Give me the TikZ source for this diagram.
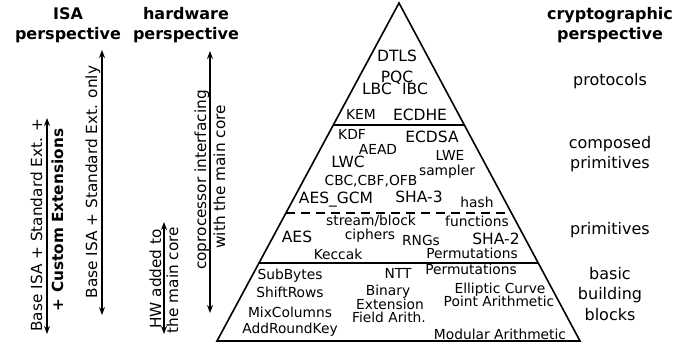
\documentclass[tikz,border=0pt]{standalone}
\usepackage{fontspec}
\setmainfont{DejaVu Sans}
\usetikzlibrary{arrows.meta, calc}

\begin{document}
\begin{tikzpicture}[x=1pt, y=-1pt,
  big/.style={font=\fontsize{15.5}{18}\selectfont, inner sep=0pt, anchor=base},
  small/.style={font=\fontsize{13.8}{16}\selectfont, inner sep=0pt, anchor=base},
  layer/.style={font=\fontsize{16}{19}\selectfont, inner sep=0pt, anchor=base},
  head/.style={font=\fontsize{16}{19}\selectfont\bfseries, inner sep=0pt, anchor=base},
  side/.style={font=\fontsize{15.3}{18}\selectfont, inner sep=0pt, anchor=base, rotate=90},
  both/.style={{Stealth[length=8pt,width=6pt]}-{Stealth[length=8pt,width=6pt]}, line width=1.3pt}]
\useasboundingbox (0,0) rectangle (696,347);
\coordinate (top) at (399,3);
\coordinate (bl) at (217,341);
\coordinate (br) at (580,341);
\coordinate (p1l) at ($(top)!0.361!(bl)$);
\coordinate (p1r) at ($(top)!0.361!(br)$);
\coordinate (p2l) at ($(top)!0.621!(bl)$);
\coordinate (p2r) at ($(top)!0.621!(br)$);
\coordinate (p3l) at ($(top)!0.769!(bl)$);
\coordinate (p3r) at ($(top)!0.769!(br)$);
\draw[line width=1.6pt] (top) -- (bl) -- (br) -- cycle;
\draw[line width=1.3pt] (p1l) -- (p1r);
\draw[line width=1.3pt, dash pattern=on 9pt off 6pt] (p2l) -- (p2r);
\draw[line width=1.3pt] (p3l) -- (p3r);

\node[head] (isa) at (68,20) {ISA};
\node[head] (isap) at (68,40) {perspective};
\node[head] (hw) at (186,20) {hardware};
\node[head] (hwp) at (186,40) {perspective};
\node[head] (crypto) at (610,20) {cryptographic};
\node[head] (cryptop) at (610,40) {perspective};

\node[side] (base1) at (42,225) {Base ISA + Standard Ext. +};
\node[side, font=\fontsize{15.3}{18}\selectfont\bfseries] (base2) at (63,220) {+ Custom Extensions};
\node[side] (only) at (97,182) {Base ISA + Standard Ext. only};
\node[side] (hw1) at (161,279) {HW added to};
\node[side] (hw2) at (178,280) {the main core};
\node[side] (cop1) at (206,180) {coprocessor interfacing};
\node[side] (cop2) at (225,177) {with the main core};

\coordinate (a1t) at (47,118);
\coordinate (a1b) at (47,334);
\coordinate (a2t) at (102,50);
\coordinate (a2b) at (102,315);
\coordinate (a3t) at (164,222);
\coordinate (a3b) at (164,334);
\coordinate (a4t) at (210,51);
\coordinate (a4b) at (210,313);
\draw[both] (a1t) -- (a1b);
\draw[both] (a2t) -- (a2b);
\draw[both] (a3t) -- (a3b);
\draw[both] (a4t) -- (a4b);

\node[big] (dtls) at (397,62) {DTLS};
\node[big] (pqc) at (397,83) {PQC};
\node[big] (lbc) at (377,95) {LBC};
\node[big] (ibc) at (415,95) {IBC};
\node[small] (kem) at (361,120) {KEM};
\node[big] (ecdhe) at (420,121) {ECDHE};

\node[small] (kdf) at (352,140) {KDF};
\node[big] (ecdsa) at (432,143) {ECDSA};
\node[small] (aead) at (378,155) {AEAD};
\node[big] (lwc) at (348,168) {LWC};
\node[small] (lwe) at (450,161) {LWE};
\node[small] (sampler) at (447,176) {sampler};
\node[small] (modes) at (371,186) {CBC,CBF,OFB};
\node[big] (gcm) at (336,204) {AES\_GCM};
\node[big] (sha3) at (419,203) {SHA-3};
\node[small] (hash) at (477,208) {hash};

\node[small] (stream) at (371,226) {stream/block};
\node[small] (func) at (477,227) {functions};
\node[small] (ciph) at (370,240) {ciphers};
\node[big] (aes) at (297,243) {AES};
\node[small] (rng) at (421,246) {RNGs};
\node[big] (sha2) at (496,245) {SHA-2};
\node[small] (keccak) at (338,260) {Keccak};
\node[small] (perm1) at (472,259) {Permutations};

\node[small] (perm2) at (471,275) {Permutations};
\node[small] (subb) at (290,280) {SubBytes};
\node[small] (ntt) at (398,279) {NTT};
\node[small] (shift) at (290,298) {ShiftRows};
\node[small] (bin) at (388,296) {Binary};
\node[small] (ell) at (500,294) {Elliptic Curve};
\node[small] (point) at (499,307) {Point Arithmetic};
\node[small] (ext) at (390,309) {Extension};
\node[small] (mix) at (290,317) {MixColumns};
\node[small] (field) at (389,323) {Field Arith.};
\node[small] (addr) at (290,334) {AddRoundKey};
\node[small] (modar) at (500,339) {Modular Arithmetic};

\node[layer] (prot) at (610,86) {protocols};
\node[layer] (comp1) at (610,149) {composed};
\node[layer] (comp2) at (610,169) {primitives};
\node[layer] (prim) at (610,235) {primitives};
\node[layer] (bb1) at (610,280) {basic};
\node[layer] (bb2) at (610,300) {building};
\node[layer] (bb3) at (610,320) {blocks};
\end{tikzpicture}
\end{document}
